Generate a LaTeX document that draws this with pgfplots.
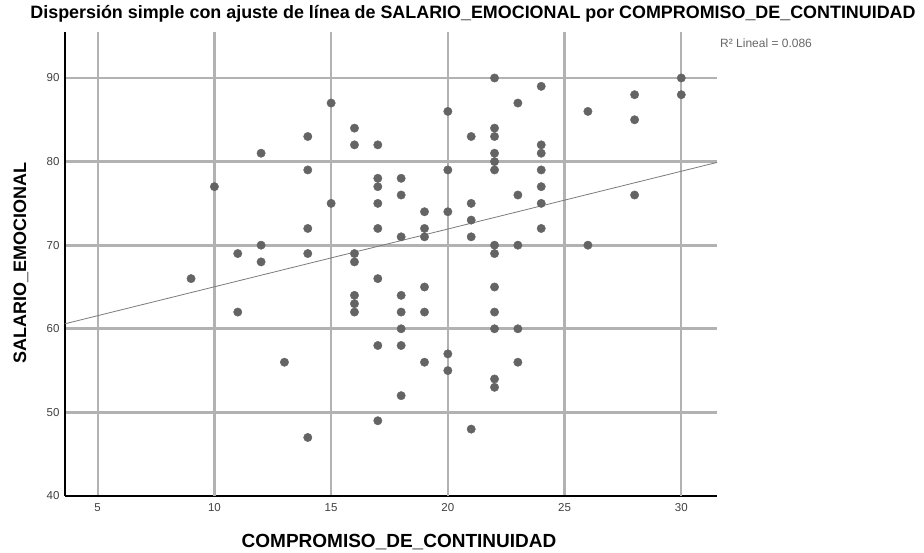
\documentclass[border=0pt]{standalone}
\usepackage{pgfplots}
\pgfplotsset{compat=1.18}
\usepackage{fontspec}
\setmainfont{Liberation Sans}
\definecolor{gridc}{RGB}{178,178,178}
\definecolor{dotc}{RGB}{100,100,100}
\begin{document}
\begin{tikzpicture}[x=1pt,y=1pt]
\path[use as bounding box] (0,0) rectangle (924,553);
\begin{axis}[
  at={(65pt,57pt)}, anchor=south west,
  scale only axis, width=652pt, height=464pt,
  xmin=3.6, xmax=31.53, ymin=40, ymax=95.5,
  axis lines=left, axis line style={black, line width=1.3pt, -},
  xtick={5,10,15,20,25,30}, ytick={40,50,60,70,80,90},
  tick align=inside, major tick length=4pt,
  tick style={gridc, line width=1pt},
  xmajorgrids, ymajorgrids,
  x grid style={gridc, line width=2.2pt},
  y grid style={gridc, line width=2.8pt},
  extra x ticks={10,20,30}, extra x tick labels={},
  extra x tick style={grid=major, major grid style={gridc, line width=3.4pt}},
  /pgf/number format/assume math mode=true,
  ticklabel style={font=\fontsize{11.5}{13}\selectfont, text=black!75},
  xticklabel style={yshift=-4pt},
  yticklabel style={xshift=-2pt},
  clip=false,
]
\addplot[only marks, mark=*, mark size=4.2pt, color=dotc, mark options={draw=dotc, fill=dotc}] coordinates {
(9,66) (10,77) (11,69) (11,62)
(12,81) (12,70) (12,68) (13,56)
(14,83) (14,79) (14,72) (14,69) (14,47)
(15,87) (15,75)
(16,84) (16,82) (16,69) (16,68) (16,64) (16,63) (16,62)
(17,82) (17,78) (17,77) (17,75) (17,72) (17,66) (17,58) (17,49)
(18,78) (18,76) (18,71) (18,64) (18,62) (18,60) (18,58) (18,52)
(19,74) (19,72) (19,71) (19,65) (19,62) (19,56)
(20,86) (20,79) (20,74) (20,57) (20,55)
(21,83) (21,75) (21,73) (21,71) (21,48)
(22,90) (22,84) (22,83) (22,81) (22,80) (22,79) (22,70) (22,69) (22,65) (22,62) (22,60) (22,54) (22,53)
(23,87) (23,76) (23,70) (23,60) (23,56)
(24,89) (24,82) (24,81) (24,79) (24,77) (24,75) (24,72)
(26,86) (26,70)
(28,88) (28,85) (28,76)
(30,90) (30,88)
};
\addplot[no marks, color=dotc!85, line width=0.8pt] coordinates {(3.6,60.6) (31.53,79.9)};
\end{axis}
\node[font=\fontsize{17.9}{21}\selectfont\bfseries] at (473,539) {Dispersión simple con ajuste de línea de SALARIO\_EMOCIONAL por COMPROMISO\_DE\_CONTINUIDAD};
\node[font=\fontsize{19}{21}\selectfont\bfseries] at (399,11) {COMPROMISO\_DE\_CONTINUIDAD};
\node[font=\fontsize{18}{21}\selectfont\bfseries, rotate=90] at (21,290) {SALARIO\_EMOCIONAL};
\node[font=\fontsize{12}{14}\selectfont, text=black!60, anchor=west, inner sep=0pt] at (720,510) {R² Lineal = 0.086};
\end{tikzpicture}
\end{document}
